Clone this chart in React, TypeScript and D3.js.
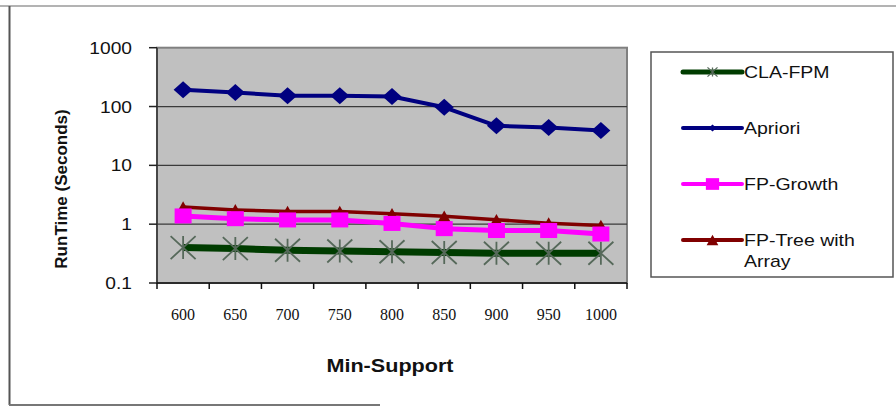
import React from "react";
import * as d3 from "d3";

const categories = ["600", "650", "700", "750", "800", "850", "900", "950", "1000"];
const claFpm = [0.4, 0.385, 0.36, 0.35, 0.34, 0.33, 0.32, 0.32, 0.32];
const apriori = [192, 173, 152, 152, 148, 97, 47, 44, 39];
const fpGrowth = [1.38, 1.24, 1.18, 1.18, 1.03, 0.84, 0.78, 0.78, 0.68];
const fpTree = [1.95, 1.75, 1.64, 1.64, 1.5, 1.36, 1.19, 1.04, 0.95];
const yTicks = [0.1, 1, 10, 100, 1000];
const yTickLabels = ["0.1", "1", "10", "100", "1000"];
const gridValues = [1, 10, 100];

const W = 896;
const H = 407;
const plot = { left: 157, right: 627, top: 47.7, bottom: 283 };
const SX = 1.2;

const x = d3.scaleBand<string>().domain(categories).range([plot.left, plot.right]);
const y = d3.scaleLog().domain([0.1, 1000]).range([plot.bottom, plot.top]);
const cx = (c: string) => (x(c) as number) + x.bandwidth() / 2;

const line = d3
  .line<number>()
  .x((_, i) => cx(categories[i]))
  .y((d) => y(d));

type MarkerKind = "star" | "diamond" | "square" | "triangle";

function Marker({ kind, px, py, s, color }: { kind: MarkerKind; px: number; py: number; s: number; color: string }) {
  if (kind === "star") {
    const w = 12.5 * s, h = 11.5 * s;
    return (
      <path
        d={`M${px - w},${py - h}L${px + w},${py + h}M${px - w},${py + h}L${px + w},${py - h}M${px},${py - h}L${px},${py + h}`}
        stroke="#56695a"
        strokeWidth={1.8 * Math.max(s, 0.7)}
        fill="none"
      />
    );
  }
  if (kind === "diamond") {
    const w = 9.5 * s, h = 8.5 * s;
    return <path d={`M${px},${py - h}L${px + w},${py}L${px},${py + h}L${px - w},${py}Z`} fill={color} />;
  }
  if (kind === "square") {
    const w = 8.5 * s, h = 7.5 * s;
    return <rect x={px - w} y={py - h} width={2 * w} height={2 * h} fill={color} />;
  }
  const w = 6.5 * s, h = 5.8 * s;
  return <path d={`M${px},${py - h}L${px + w},${py + h}L${px - w},${py + h}Z`} fill={color} />;
}

const series: { name: string[]; values: number[]; color: string; width: number; kind: MarkerKind; legendScale: number }[] = [
  { name: ["CLA-FPM"], values: claFpm, color: "#003c00", width: 7, kind: "star", legendScale: 0.4 },
  { name: ["Apriori"], values: apriori, color: "#000080", width: 4, kind: "diamond", legendScale: 0.42 },
  { name: ["FP-Tree with", "Array"], values: fpTree, color: "#800000", width: 3.5, kind: "triangle", legendScale: 0.9 },
  { name: ["FP-Growth"], values: fpGrowth, color: "#ff00ff", width: 5, kind: "square", legendScale: 0.78 },
];
const legendOrder = ["CLA-FPM", "Apriori", "FP-Growth", "FP-Tree with"];

function SText({ tx, ty, anchor, size, bold, children, family, sx = SX }: any) {
  return (
    <text
      transform={`translate(${tx},${ty}) scale(${sx},1)`}
      textAnchor={anchor}
      fontSize={size}
      fontWeight={bold ? "bold" : "normal"}
      fontFamily={family || "Liberation Sans, Arial, sans-serif"}
      fill="#111"
    >
      {children}
    </text>
  );
}

export default function App() {
  const legendX0 = 683, legendX1 = 742;
  return (
    <svg width={W} height={H} style={{ position: "absolute", left: 0, top: 0, background: "#fff" }}>
      {/* outer frame */}
      <line x1={0} x2={896} y1={6} y2={6} stroke="#9a9a9a" strokeWidth={1.5} />
      <line x1={9.5} x2={9.5} y1={6} y2={405} stroke="#555" strokeWidth={2} />
      <line x1={9} x2={380} y1={405} y2={405} stroke="#777" strokeWidth={2} />

      {/* plot area */}
      <rect x={plot.left} y={plot.top} width={plot.right - plot.left} height={plot.bottom - plot.top} fill="#c0c0c0" stroke="#808080" strokeWidth={2} />
      {gridValues.map((v) => (
        <line key={v} x1={plot.left} x2={plot.right} y1={y(v)} y2={y(v)} stroke="#3a3a3a" strokeWidth={1.2} />
      ))}
      {/* y axis */}
      <line x1={plot.left} x2={plot.left} y1={plot.top} y2={plot.bottom} stroke="#333" strokeWidth={1.5} />
      {yTicks.map((v, i) => (
        <g key={v}>
          <line x1={plot.left - 8} x2={plot.left} y1={y(v)} y2={y(v)} stroke="#222" strokeWidth={1.5} />
          <SText tx={132} ty={y(v) + 6} anchor="end" size={16}>
            {yTickLabels[i]}
          </SText>
        </g>
      ))}
      {/* x axis */}
      <line x1={plot.left} x2={plot.right} y1={plot.bottom} y2={plot.bottom} stroke="#111" strokeWidth={1.5} />
      {categories.concat([""]).map((c, i) => {
        const xx = plot.left + i * x.bandwidth();
        return <line key={i} x1={xx} x2={xx} y1={plot.bottom} y2={plot.bottom + 6} stroke="#111" strokeWidth={1.5} />;
      })}
      {categories.map((c) => (
        <text key={c} x={cx(c)} y={320} textAnchor="middle" fontSize={16} fontFamily="Liberation Serif, Times New Roman, serif" fill="#111">
          {c}
        </text>
      ))}

      {/* series */}
      {series.map((s) => (
        <g key={s.name[0]}>
          <path d={line(s.values) as string} fill="none" stroke={s.color} strokeWidth={s.width} strokeLinejoin="round" />
          {s.values.map((v, i) => (
            <Marker key={i} kind={s.kind} px={cx(categories[i])} py={y(v)} s={1} color={s.color} />
          ))}
        </g>
      ))}

      {/* axis titles */}
      <text
        transform={`translate(67,189) rotate(-90)`}
        textAnchor="middle"
        fontSize={17}
        fontWeight="bold"
        fontFamily="Liberation Sans, Arial, sans-serif"
        fill="#111"
      >
        RunTime (Seconds)
      </text>
      <SText tx={390} ty={372} anchor="middle" size={18} bold>
        Min-Support
      </SText>

      {/* legend */}
      <rect x={651} y={52} width={242} height={225} fill="#fff" stroke="#555" strokeWidth={1.5} />
      {legendOrder.map((nm, k) => {
        const s = series.find((d) => d.name[0] === nm)!;
        const ly = 72 + k * 56;
        return (
          <g key={nm}>
            <line x1={legendX0} x2={legendX1} y1={ly} y2={ly} stroke={s.color} strokeWidth={s.kind === "star" ? 5 : 4} strokeLinecap="round" />
            <Marker kind={s.kind} px={(legendX0 + legendX1) / 2} py={ly} s={s.legendScale} color={s.color} />
            {s.name.map((t, j) => (
              <SText key={j} tx={744} ty={ly + 6 + j * 21} anchor="start" size={16} sx={1.22}>
                {t}
              </SText>
            ))}
          </g>
        );
      })}
    </svg>
  );
}
